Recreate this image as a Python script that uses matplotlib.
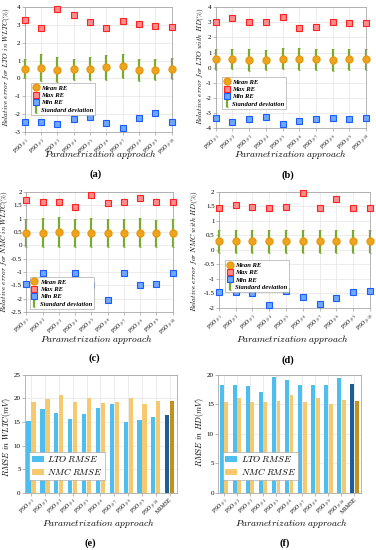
import numpy as np
import matplotlib
matplotlib.use("Agg")
import matplotlib.pyplot as plt

plt.rcParams['font.family'] = ['Liberation Serif', 'DejaVu Serif']
plt.rcParams['mathtext.fontset'] = 'cm'

pso = [r'PSO $_{\#%d}$' % i for i in range(1, 11)]
bar_labels = pso + ['MRMSE']

# (a) LTO, WLTC
a_mean = [0.55, 0.60, 0.50, 0.52, 0.55, 0.62, 0.68, 0.47, 0.50, 0.55]
a_std = [0.55, 0.75, 0.70, 0.60, 0.65, 0.68, 0.68, 0.60, 0.58, 0.58]
a_max = [3.30, 2.82, 3.90, 3.55, 3.15, 2.85, 3.25, 3.05, 2.95, 2.90]
a_min = [-2.45, -2.45, -2.55, -2.25, -2.15, -2.50, -2.75, -2.20, -1.95, -2.45]

# (b) LTO, HD
b_mean = [0.55, 0.58, 0.50, 0.50, 0.60, 0.58, 0.55, 0.50, 0.55, 0.55]
b_std = [0.70, 0.68, 0.70, 0.68, 0.70, 0.72, 0.70, 0.72, 0.70, 0.70]
b_max = [3.00, 3.25, 3.00, 3.05, 3.35, 2.65, 2.70, 3.05, 2.95, 2.95]
b_min = [-3.30, -3.60, -3.40, -3.25, -3.75, -3.55, -3.40, -3.30, -3.40, -3.30]

# (c) NMC, WLTC
c_mean = [0.47, 0.47, 0.50, 0.46, 0.47, 0.45, 0.46, 0.47, 0.45, 0.46]
c_std = [0.53, 0.55, 0.57, 0.52, 0.54, 0.52, 0.53, 0.55, 0.50, 0.53]
c_max = [1.70, 1.63, 1.63, 1.45, 1.90, 1.60, 1.63, 1.77, 1.62, 1.63]
c_min = [-1.45, -1.05, -1.55, -1.05, -1.50, -2.05, -1.05, -1.50, -1.45, -1.05]

# (d) NMC, HD
d_mean = [0.30] * 10
d_std = [0.40] * 10
d_max = [1.45, 1.55, 1.47, 1.43, 1.47, 1.95, 1.45, 1.75, 1.45, 1.45]
d_min = [-1.45, -1.45, -1.50, -1.88, -1.40, -1.63, -1.85, -1.65, -1.45, -1.43]

# (e) RMSE WLTC, (f) RMSE HD  (last value = MRMSE)
e_lto = [15.1, 17.7, 16.9, 15.6, 16.6, 17.9, 18.7, 15.0, 15.4, 16.0, 16.5]
e_nmc = [19.3, 19.8, 20.7, 19.2, 20.0, 18.9, 19.3, 20.0, 18.8, 19.4, 19.5]
f_lto = [18.2, 18.2, 18.1, 17.1, 19.6, 19.0, 18.3, 18.2, 18.3, 19.4, 18.4]
f_nmc = [15.4, 16.1, 15.4, 15.4, 15.6, 16.5, 15.3, 16.1, 15.0, 15.7, 15.6]

W, H = 376, 550
fig = plt.figure(figsize=(W / 100, H / 100), dpi=100)

def px(x, y):
    return x / W, 1 - y / H

def style(ax):
    ax.grid(True, color='#e4e4e4', lw=0.5)
    ax.set_axisbelow(True)
    for s in ax.spines.values():
        s.set_color('#999999')
        s.set_linewidth(0.5)
    ax.tick_params(labelsize=5, length=2, width=0.4, color='#888888', pad=1.0)
    ax.tick_params(axis='x', labelsize=4.1, pad=0.8)

def place_labels(ax, xl, yl):
    ax.xaxis.set_label_coords(*px(*xl), transform=fig.transFigure)
    ax.xaxis.label.set_va('center')
    ax.yaxis.set_label_coords(*px(*yl), transform=fig.transFigure)
    ax.yaxis.label.set_va('center')

def letter_at(x_px, y_px, s):
    fig.text(*px(x_px, y_px), s, ha='center', va='center', fontsize=7.5, fontweight='bold')

def err_panel(rect, mean, std, mx, mn, ylim, yticks, ylabel, legloc, legbox, xl, yl):
    ax = fig.add_axes(rect)
    style(ax)
    x = np.arange(1, 11)
    ax.errorbar(x, mean, yerr=std, fmt='none', ecolor='#77AC30', elinewidth=1.6,
                capsize=1, capthick=0.6, label='Standard deviation', zorder=2, clip_on=False)
    ax.plot(x, mean, 'o', ms=5, color='#EDA51F', mec='#E89A10', label='Mean RE', zorder=3, clip_on=False)
    ax.plot(x, mx, 's', ms=4, mfc='#FF8C8C', mec='#FF2020', mew=0.8, label='Max RE', zorder=3, clip_on=False)
    ax.plot(x, mn, 's', ms=4, mfc='#6FA8FF', mec='#1A5CFF', mew=0.8, label='Min RE', zorder=3, clip_on=False)
    ax.set_xlim(1, 10)
    ax.set_ylim(*ylim)
    ax.set_yticks(yticks)
    ax.set_yticklabels([('%g' % v) for v in yticks])
    ax.set_xticks(x)
    ax.set_xticklabels(pso, rotation=45, ha='right', rotation_mode='anchor')
    ax.set_ylabel(ylabel, fontsize=5.2)
    ax.set_xlabel(r'$Parametrization\ approach$', fontsize=6.8)
    place_labels(ax, xl, yl)
    h, l = ax.get_legend_handles_labels()
    order = [l.index(n) for n in ['Mean RE', 'Max RE', 'Min RE', 'Standard deviation']]
    leg = ax.legend([h[i] for i in order], [l[i] for i in order],
                    loc=legloc, bbox_to_anchor=legbox, handlelength=0.8,
                    prop={'size': 4.8, 'style': 'italic', 'weight': 'bold'},
                    handletextpad=0.4, borderpad=0.3, labelspacing=0.25, framealpha=1,
                    edgecolor='#999999', fancybox=False)
    leg.get_frame().set_linewidth(0.4)
    return ax

err_panel([0.066, 0.76, 0.391, 0.227], a_mean, a_std, a_max, a_min, (-3, 4), range(-3, 5),
          r'$Relative\ error\ for\ LTO\ in\ WLTC(\%)$', 'upper left', (0.02, 0.42),
          (100, 155), (7, 67))
err_panel([0.574, 0.767, 0.399, 0.22], b_mean, b_std, b_max, b_min, (-4, 4), range(-4, 5),
          r'$Relative\ error\ for\ LTO\ with\ HD(\%)$', 'upper left', (0.02, 0.45),
          (290, 155), (201, 66))
err_panel([0.07, 0.433, 0.389, 0.218], c_mean, c_std, c_max, c_min, (-2.5, 2), np.arange(-2.5, 2.01, 0.5),
          r'$Relative\ error\ for\ NMC\ in\ WLTC(\%)$', 'lower left', (0.0, 0.0),
          (96, 340), (5, 252))
err_panel([0.582, 0.44, 0.402, 0.211], d_mean, d_std, d_max, d_min, (-2, 2), np.arange(-2, 2.01, 0.5),
          r'$Relative\ error\ for\ NMC\ with\ HD(\%)$', 'upper left', (0.02, 0.44),
          (292, 339), (195, 251))

letter_at(96, 174, '(a)')
letter_at(288, 175, '(b)')
letter_at(94, 358, '(c)')
letter_at(288, 360, '(d)')

def bar_panel(rect, lto, nmc, ylim, yticks, ylabel, xl, yl):
    ax = fig.add_axes(rect)
    style(ax)
    x = np.arange(1, 12)
    w = 0.3
    lc = ['#4DBEEE'] * 10 + ['#1C5E96']
    nc = ['#F7C96E'] * 10 + ['#C2901C']
    ax.bar(x - 0.18, lto, w, color=lc, label=r'$LTO\ RMSE$')
    ax.bar(x + 0.18, nmc, w, color=nc, label=r'$NMC\ RMSE$')
    ax.set_xlim(0.55, 11.5)
    ax.set_ylim(*ylim)
    ax.set_yticks(yticks)
    ax.set_xticks(x)
    ax.set_xticklabels(bar_labels, rotation=45, ha='right', rotation_mode='anchor')
    ax.set_ylabel(ylabel, fontsize=5.8)
    ax.set_xlabel(r'$Parametrization\ approach$', fontsize=6.8)
    place_labels(ax, xl, yl)
    leg = ax.legend(loc='lower left', bbox_to_anchor=(0.0, 0.07), fontsize=6.5, handlelength=1.3,
                    handletextpad=0.4, borderpad=0.3, labelspacing=0.2, framealpha=1,
                    edgecolor='#999999', fancybox=False)
    leg.get_frame().set_linewidth(0.4)

bar_panel([0.066, 0.104, 0.404, 0.215], e_lto, e_nmc, (0, 25), range(0, 26, 5),
          r'$RMSE\ in\ WLTC(mV)$', (98, 523), (7, 437))
bar_panel([0.58, 0.104, 0.38, 0.215], f_lto, f_nmc, (0, 20), range(0, 21, 5),
          r'$RMSE\ in\ HD(mV)$', (291, 523), (200, 432))

letter_at(90, 543, '(e)')
letter_at(285, 543, '(f)')

fig.savefig('out.png', dpi=100)
